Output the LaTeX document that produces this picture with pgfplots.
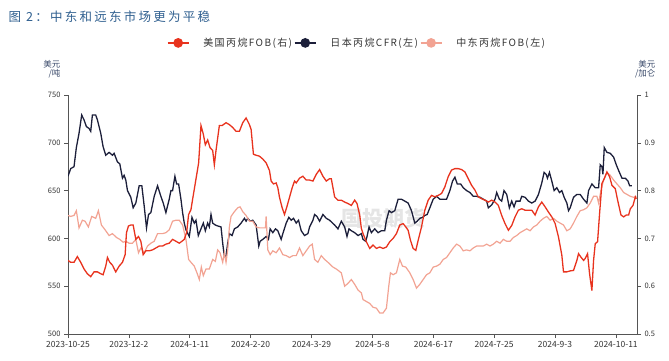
\documentclass[border=0pt]{standalone}
\usepackage{pgfplots}
\pgfplotsset{compat=1.18}
\usepackage{fontspec}
\setmainfont{Noto Sans CJK SC}
\newfontfamily\spacedA[LetterSpace=18]{Noto Sans CJK SC}
\newfontfamily\spacedB[LetterSpace=14]{Noto Sans CJK SC}
\definecolor{cRed}{HTML}{E8331E}
\definecolor{cNavy}{HTML}{1C1F3A}
\definecolor{cPink}{HTML}{F2A393}
\definecolor{titleBlue}{HTML}{2F5F8F}
\definecolor{axisGray}{HTML}{555555}
\definecolor{txtGray}{HTML}{333333}
\definecolor{unitBlue}{HTML}{3A4A6A}
\begin{document}
\begin{tikzpicture}
\path[use as bounding box] (0pt,0pt) rectangle (669pt,360pt);
\node[anchor=west, text=titleBlue, font=\fontsize{12.5}{14}\spacedA] at (5pt,343pt) {图 2：中东和远东市场更为平稳};
\node[text=gray!20, font=\fontsize{21}{22}\selectfont\bfseries] at (383pt,142pt) {国投期货};
\node[align=right, text=unitBlue, font=\fontsize{8.5}{9}\selectfont, anchor=east] at (64pt,291pt) {美元\\/吨};
\node[align=right, text=unitBlue, font=\fontsize{8.5}{9}\selectfont, anchor=east] at (659pt,291pt) {美元\\/加仑};
\begin{axis}[
  at={(68pt,26pt)}, anchor=south west, scale only axis,
  width=569pt, height=239pt,
  xmin=207, xmax=1910, ymin=500, ymax=750,
  axis x line*=bottom, axis y line*=left,
  xtick={207,389.2,571.4,753.6,935.8,1118,1300.2,1482.4,1664.6,1846.8},
  xticklabels={2023-10-25,2023-12-2,2024-1-11,2024-2-20,2024-3-29,2024-5-8,2024-6-17,2024-7-25,2024-9-3,2024-10-11},
  ytick={500,550,600,650,700,750},
  tick align=outside, major tick length=4pt,
  axis line style={draw=axisGray, line width=0.8pt},
  tick style={draw=axisGray, line width=0.6pt},
  x tick label style={font=\fontsize{8.5}{9}\selectfont, text=txtGray},
  y tick label style={font=\fontsize{7.5}{8}\selectfont, text=txtGray},
  /pgf/number format/assume math mode=true,
  legend columns=3,
  legend style={at={(0.508,1.218)}, anchor=center, draw=none, fill=none,
    font=\fontsize{10}{11}\spacedB, text=txtGray},
  /tikz/every odd column/.append style={column sep=12pt},
  legend image code/.code={\draw[line width=1.3pt] (0pt,0pt) -- (21pt,0pt); \fill (10.5pt,0pt) circle (4.2pt);},
]
\addlegendimage{color=cRed, line width=1.3pt}
\addlegendentry{美国丙烷FOB(右)}
\addplot[color=cNavy, line width=1.3pt, mark=none] coordinates {
(207,665) (215,673) (225,675) (232,695) (240,710) (248,729) (255,724) (262,717) (270,715) (275,712)
(280,729) (290,729) (295,724) (305,710) (312,696) (320,687) (330,690) (340,687) (345,689) (355,680)
(362,678) (370,663) (375,666) (380,661) (385,650) (395,643) (402,632) (410,637) (420,655) (428,655)
(435,634) (442,611) (448,625) (455,627) (465,644) (475,655) (485,644) (492,637) (500,627) (510,641)
(515,650) (520,650) (527,665) (532,657) (538,657) (545,641) (550,627) (555,616) (560,609) (570,602)
(578,622) (585,616) (590,619) (597,603) (605,610) (612,616) (618,608) (625,616) (630,612) (635,625)
(640,616) (648,614) (655,613) (665,612) (670,595) (675,581) (680,582) (685,595) (690,605) (698,603)
(705,610) (715,612) (725,616) (735,621) (740,618) (745,621) (752,618) (760,619) (770,614) (778,592)
(782,597) (790,599) (800,602) (807,599) (812,610) (820,606) (828,610) (835,608) (845,599) (850,605)
(860,616) (868,622) (875,619) (882,621) (890,616) (897,619) (905,608) (915,603) (925,605) (930,612)
(940,619) (945,625) (952,623) (960,618) (970,625) (980,621) (990,619) (1005,614) (1015,610) (1025,618)
(1035,612) (1042,602) (1048,610) (1055,608) (1065,606) (1075,603) (1085,605) (1090,599) (1098,597) (1102,602)
(1108,612) (1115,606) (1125,610) (1135,606) (1145,608) (1155,608) (1160,619) (1168,629) (1175,627) (1185,629)
(1195,641) (1205,641) (1215,639) (1225,637) (1235,629) (1245,616) (1252,618) (1260,621) (1268,622) (1275,624)
(1282,625) (1290,632) (1300,641) (1310,644) (1320,641) (1330,641) (1340,641) (1350,650) (1358,660) (1365,664)
(1372,657) (1382,657) (1390,653) (1400,650) (1410,648) (1420,644) (1430,644) (1440,643) (1450,641) (1460,639)
(1465,632) (1475,635) (1485,641) (1490,648) (1498,641) (1505,639) (1512,650) (1520,646) (1528,632) (1535,639)
(1542,633) (1548,639) (1560,639) (1565,644) (1575,643) (1585,639) (1595,637) (1605,639) (1615,646) (1625,658)
(1632,669) (1638,667) (1642,663) (1648,669) (1655,660) (1662,650) (1670,653) (1678,648) (1685,650) (1692,643)
(1700,637) (1705,629) (1710,632) (1720,643) (1730,646) (1740,646) (1750,641) (1760,637) (1765,650) (1775,657)
(1785,653) (1795,653) (1800,677) (1805,675) (1808,667) (1812,695) (1820,690) (1830,689) (1840,685) (1848,677)
(1855,671) (1865,663) (1875,663) (1883,660) (1888,655) (1895,655)
};
\addlegendentry{日本丙烷CFR(左)}
\addplot[color=cPink, line width=1.2pt, mark=none] coordinates {
(207,624) (215,623) (225,624) (232,629) (240,611) (250,619) (258,618) (268,612) (278,623) (290,621)
(298,629) (307,614) (318,609) (330,603) (340,605) (352,601) (362,599) (372,596) (380,597) (390,595)
(400,595) (410,599) (418,585) (425,590) (435,585) (445,592) (455,595) (465,597) (475,605) (490,605)
(500,606) (510,609) (520,618) (530,619) (540,619) (550,614) (560,599) (568,578) (575,575) (585,571)
(593,564) (600,557) (606,570) (612,561) (620,568) (630,568) (640,578) (648,576) (655,588) (662,585)
(670,575) (675,585) (680,575) (685,588) (690,612) (695,623) (705,628) (715,632) (722,633) (730,628)
(740,624) (750,618) (760,618) (770,612) (780,611) (790,611) (798,611) (800,623) (805,588) (812,583)
(820,587) (830,585) (840,590) (850,583) (860,582) (870,580) (880,582) (890,582) (900,590) (910,582)
(920,587) (930,592) (938,594) (945,578) (955,575) (965,582) (975,578) (985,575) (1000,570) (1010,568)
(1025,564) (1035,550) (1045,553) (1055,557) (1065,552) (1075,546) (1085,543) (1090,536) (1100,534) (1110,532)
(1120,528) (1130,527) (1140,522) (1150,522) (1160,527) (1167,550) (1172,564) (1180,562) (1190,564) (1200,578)
(1208,571) (1218,570) (1230,564) (1240,557) (1250,548) (1260,552) (1270,557) (1280,562) (1290,564) (1300,570)
(1310,571) (1320,573) (1330,578) (1340,580) (1350,585) (1360,590) (1370,594) (1380,592) (1390,587) (1400,588)
(1410,587) (1420,590) (1430,592) (1440,592) (1450,592) (1460,594) (1470,592) (1480,594) (1490,597) (1500,595)
(1510,599) (1520,597) (1530,597) (1540,601) (1550,603) (1560,606) (1570,608) (1580,610) (1590,608) (1600,612)
(1610,614) (1620,618) (1630,621) (1640,623) (1650,619) (1660,621) (1670,618) (1680,616) (1690,614) (1700,608)
(1710,610) (1720,616) (1730,623) (1740,629) (1750,630) (1760,632) (1770,637) (1780,644) (1790,644) (1795,637)
(1802,650) (1810,661) (1820,669) (1830,666) (1840,661) (1850,657) (1860,653) (1870,648) (1880,646) (1890,644)
(1900,643) (1908,644)
};
\addlegendentry{中东丙烷FOB(左)}
\end{axis}
\begin{axis}[
  at={(68pt,26pt)}, anchor=south west, scale only axis,
  width=569pt, height=239pt,
  xmin=207, xmax=1910, ymin=0.5, ymax=1,
  axis x line=none, axis y line*=right,
  ytick={0.5,0.6,0.7,0.8,0.9,1},
  yticklabels={0.5,0.6,0.7,0.8,0.9,1},
  tick align=outside, major tick length=4pt,
  axis line style={draw=axisGray, line width=0.8pt},
  tick style={draw=axisGray, line width=0.6pt},
  y tick label style={font=\fontsize{7.5}{8}\selectfont, text=txtGray},
]
\addplot[color=cRed, line width=1.3pt, mark=none] coordinates {
(207,0.654) (215,0.650) (225,0.650) (235,0.662) (245,0.650) (255,0.636) (265,0.626) (275,0.620) (285,0.630) (295,0.630)
(305,0.626) (312,0.624) (320,0.642) (325,0.660) (332,0.650) (340,0.644) (350,0.630) (360,0.642) (370,0.650) (378,0.666)
(382,0.712) (388,0.726) (395,0.728) (402,0.728) (410,0.698) (418,0.704) (425,0.694) (432,0.666) (440,0.674) (450,0.674)
(460,0.676) (470,0.680) (480,0.684) (490,0.684) (500,0.688) (510,0.690) (520,0.698) (530,0.694) (540,0.690) (548,0.694)
(555,0.698) (562,0.712) (568,0.750) (575,0.760) (580,0.782) (590,0.824) (598,0.858) (605,0.936) (612,0.918) (618,0.896)
(625,0.906) (632,0.890) (640,0.884) (645,0.854) (650,0.884) (660,0.936) (668,0.936) (680,0.942) (690,0.938) (700,0.932)
(710,0.924) (720,0.924) (730,0.942) (740,0.952) (750,0.938) (755,0.928) (762,0.876) (770,0.874) (780,0.872) (790,0.866)
(800,0.858) (810,0.842) (815,0.820) (822,0.814) (830,0.816) (835,0.806) (840,0.786) (848,0.764) (855,0.750) (862,0.766)
(870,0.786) (878,0.806) (885,0.820) (890,0.816) (900,0.826) (910,0.830) (920,0.822) (930,0.822) (940,0.820) (950,0.834)
(960,0.844) (970,0.830) (980,0.820) (990,0.825) (995,0.825) (1005,0.787) (1015,0.780) (1025,0.780) (1035,0.776) (1045,0.773)
(1055,0.769) (1065,0.780) (1072,0.773) (1080,0.749) (1085,0.721) (1090,0.710) (1100,0.693) (1110,0.679) (1120,0.686) (1130,0.679)
(1140,0.682) (1150,0.679) (1160,0.682) (1170,0.693) (1180,0.700) (1190,0.710) (1200,0.728) (1210,0.731) (1218,0.724) (1225,0.717)
(1232,0.696) (1240,0.679) (1248,0.675) (1255,0.696) (1265,0.724) (1275,0.759) (1285,0.780) (1295,0.790) (1305,0.787) (1315,0.790)
(1325,0.794) (1335,0.808) (1345,0.829) (1355,0.843) (1365,0.846) (1375,0.846) (1385,0.844) (1395,0.839) (1405,0.825) (1415,0.811)
(1425,0.801) (1435,0.787) (1445,0.783) (1455,0.780) (1465,0.776) (1475,0.780) (1485,0.776) (1495,0.769) (1505,0.748) (1515,0.731)
(1525,0.717) (1535,0.727) (1545,0.745) (1555,0.759) (1565,0.762) (1575,0.759) (1585,0.759) (1595,0.759) (1605,0.749) (1615,0.766)
(1625,0.776) (1635,0.766) (1645,0.755) (1655,0.745) (1665,0.731) (1675,0.703) (1685,0.665) (1690,0.630) (1700,0.630) (1710,0.632)
(1720,0.633) (1730,0.654) (1735,0.668) (1742,0.661) (1750,0.654) (1755,0.658) (1762,0.668) (1768,0.626) (1775,0.591) (1780,0.654)
(1785,0.689) (1792,0.693) (1798,0.752) (1805,0.815) (1812,0.825) (1820,0.839) (1828,0.829) (1835,0.811) (1845,0.804) (1852,0.780)
(1862,0.749) (1870,0.745) (1878,0.749) (1885,0.749) (1890,0.762) (1898,0.769) (1905,0.787) (1908,0.783)
};
\end{axis}
\end{tikzpicture}
\end{document}
